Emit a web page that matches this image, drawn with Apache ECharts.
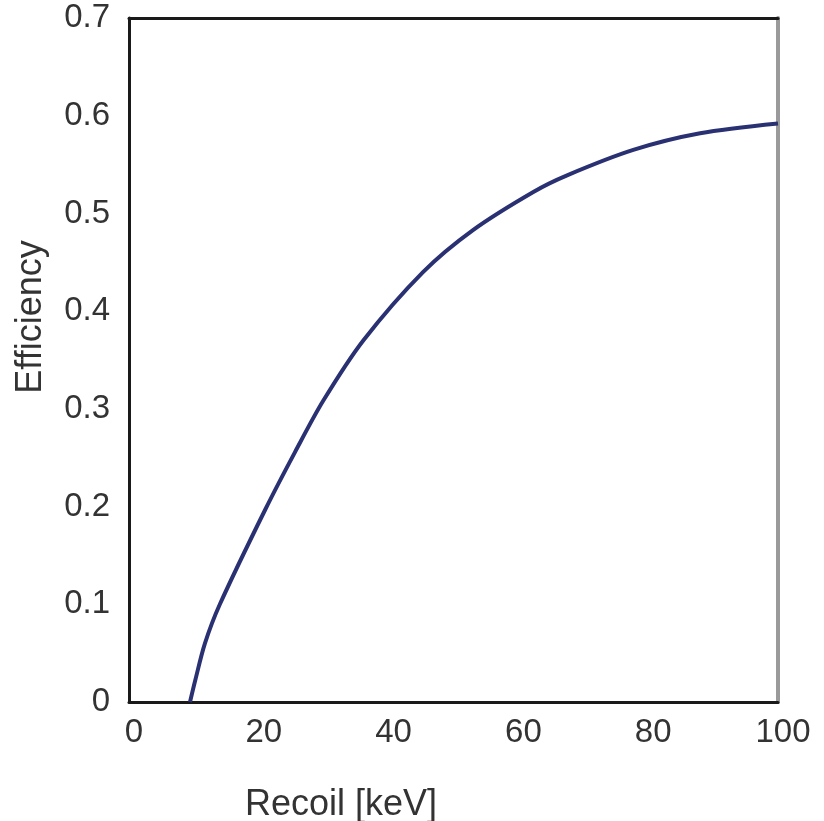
<!DOCTYPE html>
<html>
<head>
<meta charset="utf-8">
<script src="https://cdn.jsdelivr.net/npm/echarts@6/dist/echarts.min.js"></script>
<style>
  html, body { margin: 0; padding: 0; background: #ffffff; }
  #chart { width: 824px; height: 821px; }
</style>
</head>
<body>
<div id="chart"></div>
<script>
// Detection efficiency as a function of recoil energy
const recoilKeV = [9.4, 10.2, 11.7, 14.0, 21.0, 25.6, 29.9, 36.1, 45.3, 53.0, 62.3, 67.5, 77.7, 88.0, 100];
const efficiency = [0.0, 0.022, 0.06, 0.1, 0.197, 0.256, 0.308, 0.37, 0.44, 0.483, 0.522, 0.539, 0.565, 0.582, 0.592];

const xTicks = [0, 20, 40, 60, 80, 100];
const yTicks = [0, 0.1, 0.2, 0.3, 0.4, 0.5, 0.6, 0.7];

const xTitle = 'Recoil [keV]';
const yTitle = 'Efficiency';

const FONT = '"Liberation Sans", Arial, sans-serif';
const TEXT = '#333333';

const points = recoilKeV.map((x, i) => [x, efficiency[i]]);

const chart = echarts.init(document.getElementById('chart'));
chart.setOption({
  backgroundColor: '#ffffff',
  animation: false,
  grid: { left: 129, right: 46, top: 18, bottom: 119, containLabel: false },
  xAxis: [
    {
      type: 'value',
      min: xTicks[0],
      max: xTicks[xTicks.length - 1],
      interval: 20,
      position: 'bottom',
      axisLine: { show: true, onZero: false, lineStyle: { color: '#1a1a1a', width: 3 } },
      axisTick: { show: false },
      splitLine: { show: false },
      axisLabel: {
        fontFamily: FONT, fontSize: 33, color: TEXT, margin: 14,
        padding: [0, 0, 0, 10],
        formatter: v => String(v)
      }
    },
    {
      type: 'value',
      min: xTicks[0],
      max: xTicks[xTicks.length - 1],
      position: 'top',
      axisLine: { show: true, onZero: false, lineStyle: { color: '#1a1a1a', width: 3 } },
      axisTick: { show: false },
      axisLabel: { show: false },
      splitLine: { show: false }
    }
  ],
  yAxis: [
    {
      type: 'value',
      min: yTicks[0],
      max: yTicks[yTicks.length - 1],
      interval: 0.1,
      position: 'left',
      axisLine: { show: true, onZero: false, lineStyle: { color: '#1a1a1a', width: 3 } },
      axisTick: { show: false },
      splitLine: { show: false },
      axisLabel: {
        fontFamily: FONT, fontSize: 33, color: TEXT, margin: 19,
        formatter: v => (v === 0 ? '0' : v.toFixed(1))
      }
    },
    {
      type: 'value',
      min: yTicks[0],
      max: yTicks[yTicks.length - 1],
      position: 'right',
      axisLine: { show: true, onZero: false, lineStyle: { color: '#9a9a9a', width: 4 } },
      axisTick: { show: false },
      axisLabel: { show: false },
      splitLine: { show: false }
    }
  ],
  graphic: [
    {
      type: 'text',
      x: 341, y: 805,
      style: {
        text: xTitle, fontFamily: FONT, fontSize: 36, fill: TEXT,
        textAlign: 'center', textVerticalAlign: 'middle'
      }
    },
    {
      type: 'text',
      x: 31, y: 317,
      rotation: Math.PI / 2,
      style: {
        text: yTitle, fontFamily: FONT, fontSize: 36, fill: TEXT,
        textAlign: 'center', textVerticalAlign: 'middle'
      }
    }
  ],
  series: [
    {
      type: 'line',
      xAxisIndex: 0,
      yAxisIndex: 0,
      data: points,
      smooth: 0.3,
      showSymbol: false,
      symbol: 'none',
      lineStyle: { color: '#2a3172', width: 4 },
      z: 3
    }
  ]
});
</script>
</body>
</html>
